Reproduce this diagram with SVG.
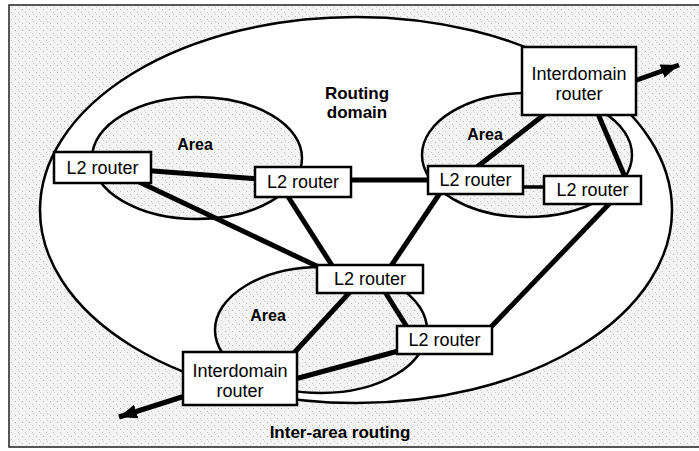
<svg xmlns="http://www.w3.org/2000/svg" width="699" height="451" viewBox="0 0 699 451">
<style>
.txt{font-family:"Liberation Sans",Arial,sans-serif;fill:#000;text-anchor:middle}
.node rect{fill:#fff;stroke:#000;stroke-width:2.5}
.node text{font-size:18px}
.lbl{font-weight:bold;font-size:16px}
.area{fill:url(#stip);stroke:#000;stroke-width:2.5}
.conn line{stroke:#000;stroke-width:5;stroke-linecap:butt}
.conn line.thin{stroke-width:3.5}
.arr{stroke:#000;stroke-width:4;marker-end:url(#ah)}
</style>
<defs>
<pattern id="stip" width="7" height="7" patternUnits="userSpaceOnUse">
<rect width="7" height="7" fill="#f3f3f3"/>
<rect x="1" y="2" width="1" height="1" fill="#b8b8b8"/>
<rect x="4" y="5" width="1" height="1" fill="#c4c4c4"/>
<rect x="5" y="0" width="1" height="1" fill="#d0d0d0"/>
</pattern>
<marker id="ah" markerUnits="userSpaceOnUse" markerWidth="20" markerHeight="16" refX="18" refY="7" orient="auto">
<path d="M0,0 L18,7 L0,14 Z" fill="#000"/>
</marker>
</defs>
<rect x="9" y="5" width="690" height="442" fill="url(#stip)"/>
<path d="M699 5 H9 V447 H699" fill="none" stroke="#222" stroke-width="1.5"/>
<g id="domain">
<ellipse cx="356" cy="210" rx="316" ry="193" fill="#fff" stroke="#000" stroke-width="2.5"/>
<text class="txt" x="357" y="99" font-size="17" font-weight="bold">Routing</text>
<text class="txt" x="357" y="118" font-size="17" font-weight="bold">domain</text>
</g>
<g id="area1"><ellipse class="area" cx="197" cy="158" rx="105" ry="61"/><text class="txt lbl" x="195" y="150">Area</text></g>
<g id="area2"><ellipse class="area" cx="527" cy="155" rx="105" ry="62"/><text class="txt lbl" x="485" y="140">Area</text></g>
<g id="area3"><ellipse class="area" cx="321" cy="330" rx="106" ry="63"/><text class="txt lbl" x="268" y="321">Area</text></g>
<g id="connectors" class="conn">
<line x1="140" y1="170" x2="260" y2="179"/>
<line x1="135" y1="180" x2="325" y2="270"/>
<line x1="287" y1="195" x2="333" y2="267"/>
<line x1="345" y1="180" x2="432" y2="180"/>
<line x1="440" y1="193" x2="391" y2="266"/>
<line x1="477" y1="167" x2="545" y2="114"/>
<line class="thin" x1="520" y1="187" x2="548" y2="187"/>
<line x1="598" y1="114" x2="625" y2="177"/>
<line x1="610" y1="203" x2="490" y2="328"/>
<line x1="385" y1="292" x2="407" y2="327"/>
<line x1="350" y1="292" x2="293" y2="354"/>
<line x1="295" y1="379" x2="402" y2="350"/>
<line class="arr" x1="634" y1="81" x2="679" y2="65"/>
<line class="arr" x1="185" y1="396" x2="119" y2="417"/>
</g>
<g id="r_a" class="node"><rect x="54" y="152" width="97" height="31"/><text class="txt" x="102.5" y="174">L2 router</text></g>
<g id="r_b" class="node"><rect x="255" y="167" width="96" height="30"/><text class="txt" x="303" y="188">L2 router</text></g>
<g id="r_c" class="node"><rect x="428" y="166" width="95" height="28"/><text class="txt" x="475.5" y="186">L2 router</text></g>
<g id="r_d" class="node"><rect x="544" y="176" width="97" height="28"/><text class="txt" x="592.5" y="196">L2 router</text></g>
<g id="r_e" class="node"><rect x="317" y="265" width="106" height="28"/><text class="txt" x="370" y="285">L2 router</text></g>
<g id="r_f" class="node"><rect x="397" y="326" width="95" height="28"/><text class="txt" x="444.5" y="346">L2 router</text></g>
<g id="id_top" class="node"><rect x="522" y="47" width="114" height="68"/><text class="txt" x="579" y="80">Interdomain</text><text class="txt" x="579" y="100">router</text></g>
<g id="id_bot" class="node"><rect x="183" y="352" width="114" height="53"/><text class="txt" x="240" y="377">Interdomain</text><text class="txt" x="240" y="397">router</text></g>
<text id="inter" class="txt" x="340" y="438" font-size="17" font-weight="bold">Inter-area routing</text>
</svg>
